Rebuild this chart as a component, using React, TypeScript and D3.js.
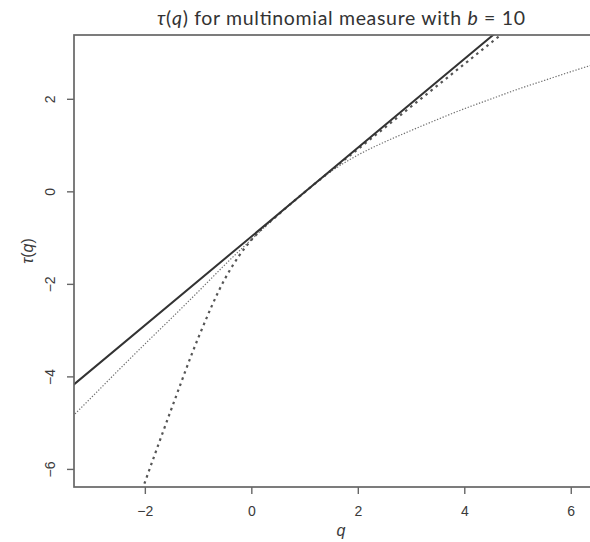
import React from "react";
import * as d3 from "d3";

const xTicks = [-2, 0, 2, 4, 6];
const yTicks = [-6, -4, -2, 0, 2];

// solid straight line (tangent through (1,0))
const solidQ = [-3.6, 1, 5.0];
const solidTau = [-4.41, 0, 3.84];

// heavy dotted curve
const dashQ = [-2.5, -2.0, -1.5, -1.0, -0.5, -0.25, 0, 0.5, 1.0, 1.5, 2.0, 2.5, 3.0, 3.5, 4.0, 4.5, 5.0];
const dashTau = [-7.9, -6.25, -4.66, -3.14, -1.87, -1.4, -1.03, -0.49, 0, 0.47, 0.93, 1.39, 1.85, 2.31, 2.77, 3.23, 3.69];

// thin dotted curve
const dotQ = [-3.6, -3.0, -2.5, -2.0, -1.5, -1.0, -0.5, 0, 0.5, 1.0, 1.5, 2.0, 2.5, 3.0, 3.5, 4.0, 4.5, 5.0, 5.5, 6.0, 6.5, 7.0];
const dotTau = [-5.12, -4.43, -3.85, -3.28, -2.72, -2.15, -1.57, -1.02, -0.49, 0, 0.45, 0.8, 1.08, 1.33, 1.57, 1.8, 2.01, 2.22, 2.41, 2.6, 2.78, 2.95];

const W = 590, H = 542;
const L = 74, R = 608, T = 35, B = 487;

export default function App() {
  const x = d3.scaleLinear().domain([-3.34, 6.69]).range([L, R]);
  const y = d3.scaleLinear().domain([-6.38, 3.39]).range([B, T]);
  const line = d3.line<[number, number]>().x(d => x(d[0])).y(d => y(d[1])).curve(d3.curveMonotoneX);
  const solid = solidQ.map((q, i) => [q, solidTau[i]] as [number, number]);
  const dash = dashQ.map((q, i) => [q, dashTau[i]] as [number, number]);
  const dot = dotQ.map((q, i) => [q, dotTau[i]] as [number, number]);
  const axisCol = "#666";
  const txtCol = "#3a3a3a";
  const cx = (L + R) / 2;
  return (
    <svg width={W} height={H} style={{ position: "absolute", left: 0, top: 0, background: "#fff" }}>
      <defs>
        <clipPath id="plot">
          <rect x={L} y={T} width={R - L} height={B - T} />
        </clipPath>
      </defs>
      <text x={cx} y={25} textAnchor="middle" fontFamily="Lato, 'Open Sans', sans-serif" fontSize={19.5} fill="#333"
        textLength={368} lengthAdjust="spacing">
        <tspan fontStyle="italic">τ</tspan>(<tspan fontStyle="italic">q</tspan>) for multinomial measure with <tspan fontStyle="italic">b</tspan> = 10
      </text>
      <g clipPath="url(#plot)">
        <path d={line(dot) || ""} fill="none" stroke="#707070" strokeWidth={1.2} strokeDasharray="1.3,1.7" />
        <path d={line(dash) || ""} fill="none" stroke="#555" strokeWidth={2.2} strokeDasharray="2.5,4" />
        <path d={line(solid) || ""} fill="none" stroke="#333" strokeWidth={2} />
      </g>
      <rect x={L} y={T} width={R - L} height={B - T} fill="none" stroke={axisCol} strokeWidth={1.7} />
      {yTicks.map(t => (
        <g key={"y" + t}>
          <line x1={L - 7} x2={L} y1={y(t)} y2={y(t)} stroke={axisCol} strokeWidth={1.4} />
          <text transform={`translate(${L - 24},${y(t)}) rotate(-90)`} textAnchor="middle" dy="0.35em"
            fontFamily="'Liberation Sans', Arial, sans-serif" fontSize={14} fill={txtCol}>{String(t).replace("-", "−")}</text>
        </g>
      ))}
      {xTicks.map(t => (
        <g key={"x" + t}>
          <line x1={x(t)} x2={x(t)} y1={B} y2={B + 7} stroke={axisCol} strokeWidth={1.4} />
          <text x={x(t)} y={B + 24} textAnchor="middle" dy="0.35em"
            fontFamily="'Liberation Sans', Arial, sans-serif" fontSize={14} fill={txtCol}>{String(t).replace("-", "−")}</text>
        </g>
      ))}
      <text x={cx} y={B + 43} textAnchor="middle" dy="0.35em" fontFamily="'Liberation Sans', Arial, sans-serif"
        fontSize={16} fontStyle="italic" fill={txtCol}>q</text>
      <text transform={`translate(27,${(T + B) / 2 - 10}) rotate(-90)`} textAnchor="middle" dy="0.35em"
        fontFamily="'Liberation Sans', Arial, sans-serif" fontSize={16} fill={txtCol}>
        <tspan fontStyle="italic">τ</tspan>(<tspan fontStyle="italic">q</tspan>)
      </text>
    </svg>
  );
}
